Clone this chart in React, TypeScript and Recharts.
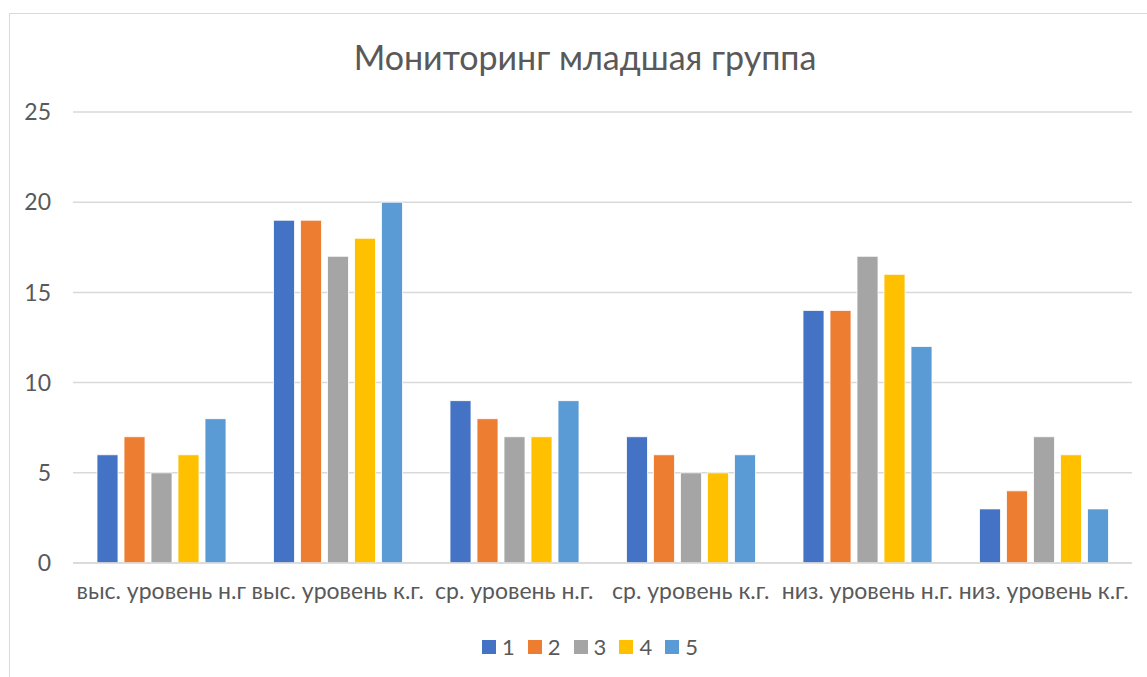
import { BarChart, Bar, XAxis, YAxis, CartesianGrid } from "recharts"

const categories = [
  "выс. уровень н.г",
  "выс. уровень к.г.",
  "ср. уровень н.г.",
  "ср. уровень к.г.",
  "низ. уровень н.г.",
  "низ. уровень к.г.",
]
const series1 = [6, 19, 9, 7, 14, 3]
const series2 = [7, 19, 8, 6, 14, 4]
const series3 = [5, 17, 7, 5, 17, 7]
const series4 = [6, 18, 7, 5, 16, 6]
const series5 = [8, 20, 9, 6, 12, 3]
const yTicks = [0, 5, 10, 15, 20, 25]

const seriesNames = ["1", "2", "3", "4", "5"]
const colors = ["#4472C4", "#ED7D31", "#A5A5A5", "#FFC000", "#5B9BD5"]

const data = categories.map((name, i) => ({
  name,
  s1: series1[i],
  s2: series2[i],
  s3: series3[i],
  s4: series4[i],
  s5: series5[i],
}))

const font = "Lato, 'Open Sans', sans-serif"

// legend drawn as plain html under the plot
function ChartLegend() {
  return (
    <div style={{ position: "absolute", left: 0, top: 634, width: 1180, display: "flex", justifyContent: "center", fontFamily: font, fontSize: 22, lineHeight: "26px", color: "#595959" }}>
      {seriesNames.map((n, i) => (
        <div key={n} style={{ display: "flex", alignItems: "center", marginRight: i < 4 ? 13 : 0 }}>
          <span style={{ width: 14, height: 14, background: colors[i], display: "inline-block", marginRight: 6 }} />
          <span>{n}</span>
        </div>
      ))}
    </div>
  )
}

export default function App() {
  return (
    <div style={{ position: "absolute", left: 0, top: 0, width: 1147, height: 677, background: "#fff", overflow: "hidden" }}>
      <div style={{ position: "absolute", left: 9, top: 13, width: 1160, height: 700, border: "1.5px solid #d9d9d9" }} />
      <div style={{ position: "absolute", left: 0, top: 36, width: 1170, textAlign: "center", fontFamily: font, fontSize: 34, lineHeight: "42px", color: "#595959" }}>
        Мониторинг младшая группа
      </div>
      <div style={{ position: "absolute", left: 0, top: 0 }}>
        <BarChart width={1147} height={677} data={data} margin={{ top: 112, right: 15, left: 23, bottom: 0 }} barCategoryGap={24} barGap={6}>
          <CartesianGrid vertical={false} stroke="#d9d9d9" strokeWidth={1.5} />
          <XAxis
            dataKey="name"
            axisLine={{ stroke: "#d9d9d9", strokeWidth: 1.5 }}
            tickLine={false}
            height={114}
            interval={0}
            tick={{ fill: "#595959", fontSize: 23, fontFamily: font, dy: 12 }}
          />
          <YAxis
            domain={[0, 25]}
            ticks={yTicks}
            width={50}
            axisLine={false}
            tickLine={false}
            tick={{ fill: "#595959", fontSize: 23, fontFamily: font, dx: -14 }}
          />
          {["s1", "s2", "s3", "s4", "s5"].map((k, i) => (
            <Bar key={k} dataKey={k} name={seriesNames[i]} fill={colors[i]} stroke="#fff" strokeWidth={0.8} isAnimationActive={false} />
          ))}
        </BarChart>
      </div>
      <ChartLegend />
    </div>
  )
}
